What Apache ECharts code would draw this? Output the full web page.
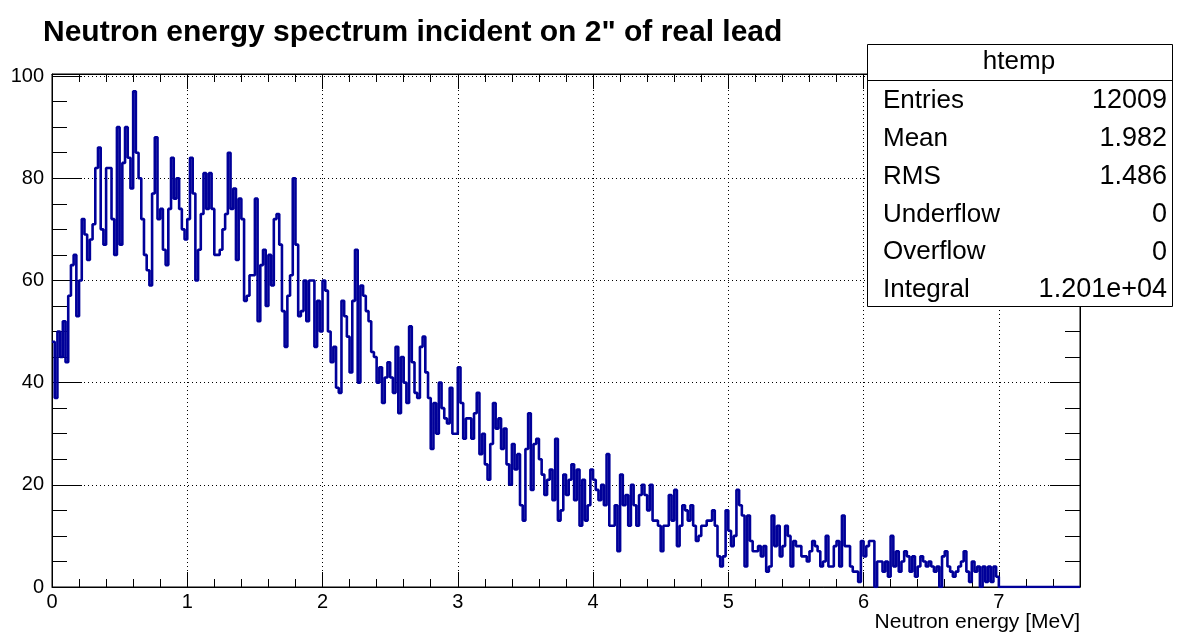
<!DOCTYPE html>
<html><head><meta charset="utf-8">
<script src="https://cdn.jsdelivr.net/npm/echarts@6/dist/echarts.min.js"></script>
<style>html,body{margin:0;padding:0;background:#fff}#c{width:1183px;height:635px}</style>
</head><body><div id="c"></div>
<script>
const TITLE = 'Neutron energy spectrum incident on 2" of real lead';
const X_NAME = 'Neutron energy [MeV]';
const BIN_WIDTH = 0.02;
const X_MIN = 0, X_MAX = 7.6;
const Y_MIN = 0, Y_MAX = 100.4;
const xTickValues = [0, 1, 2, 3, 4, 5, 6, 7];
const yTickValues = [0, 20, 40, 60, 80, 100];

// bin contents, 0.02 MeV bins
const counts0to1 = [48,37,50,45,52,44,57,63,65,53, 60,72,69,64,68,71,82,86,70,67, 82,82,72,65,90,67,83,90,84,78, 97,85,80,72,65,62,59,77,88,72, 74,66,63,74,84,76,80,74,70,68];
const counts1to2 = [72,84,77,60,66,73,81,74,81,74, 65,65,66,70,73,85,74,78,64,76, 72,56,57,61,61,76,52,63,66,55, 65,59,72,73,67,54,47,57,61,80, 67,53,54,60,52,60,60,47,56,50];
const counts2to3p16 = [60,58,50,44,47,39,38,56,53,49, 42,56,66,40,59,57,54,52,46,45, 40,43,36,41,44,41,38,47,34,45, 40,36,51,44,38,37,47,49,42,37, 27,36,30,40,35,33,32,39,30,30, 43,36,29,33,33,29,34,38];
const counts3p16to4p06 = [26,30,24,21,28,36,31,33,27,31, 24,20,28,23,26,16,13,27,34,19, 28,29,25,22,18,21,23,17,29,13, 15,22,18,21,24,17,23,12,21,13, 16,23,21,19,17];
const counts4p06to5p24 = [20,16,26,12,12,16,7,22,16,18, 12,20,16,12,18,20,18,15,20,13, 13,12,7,12,12,18,13,19,8,12, 16,15,13,16,12,9,10,12,12,13, 13,15,12,6,4,6,15,11,8,10, 19,16,14,4,14,9,7,7,8];
const counts5p24to6p28 = [6,8,3,4,14,8,12,6,8,12, 10,4,9,8,8,6,6,5,7,9, 8,7,4,5,10,4,4,8,9,4, 14,8,8,4,3,3,1,9,6,8, 9,9,0,5,5,3,5,2,10,4, 7,3];
const counts6p28to7 = [5,7,6,3,6,2,4,6,5,4, 5,4,3,4,0,6,7,4,3,2, 3,4,5,7,3,1,5,3,4,0, 4,1,4,1,4,2];
const counts7to7p6 = [0,0,0,0,0,0,0,0,0,0, 0,0,0,0,0,0,0,0,0,0, 0,0,0,0,0,0,0,0,0,0];

const statsTitle = 'htemp';
const statLabels = ['Entries', 'Mean', 'RMS', 'Underflow', 'Overflow', 'Integral'];
const statValues = ['12009', '1.982', '1.486', '0', '0', '1.201e+04'];

const counts = [].concat(counts0to1, counts1to2, counts2to3p16, counts3p16to4p06,
  counts4p06to5p24, counts5p24to6p28, counts6p28to7, counts7to7p6);
const histData = counts.map((c, i) => [+(i * BIN_WIDTH).toFixed(4), c]);
histData.push([X_MAX, counts[counts.length - 1]]);

const FONT = '"Liberation Sans", Arial, Helvetica, sans-serif';
const chart = echarts.init(document.getElementById('c'), null, {renderer: 'canvas'});

const near = (v, arr) => arr.some(t => Math.abs(t - v) < 1e-6);
const xAxisBase = {
  type: 'value', min: X_MIN, max: X_MAX, interval: 1,
  axisLine: {show: true, onZero: false, lineStyle: {color: '#000', width: 1}},
  axisTick: {show: true, inside: true, length: 15, lineStyle: {color: '#000'}},
  minorTick: {show: true, splitNumber: 5, length: 8, lineStyle: {color: '#000'}},
};
const yAxisBase = {
  type: 'value', min: Y_MIN, max: Y_MAX, interval: 20,
  axisLine: {show: true, onZero: false, lineStyle: {color: '#000', width: 1}},
  axisTick: {show: true, inside: true, length: 30, lineStyle: {color: '#000'}},
  minorTick: {show: true, splitNumber: 4, length: 15, lineStyle: {color: '#000'}},
};

const graphics = [];
graphics.push({
  type: 'text', x: 1080, y: 622, z: 10,
  style: {text: X_NAME, fill: '#000', font: '21px ' + FONT, textAlign: 'right', textVerticalAlign: 'middle', verticalAlign: 'middle'}
});
graphics.push({
  type: 'rect', z: 20, shape: {x: 867.5, y: 44.5, width: 305, height: 262},
  style: {fill: '#fff', stroke: '#000', lineWidth: 1}
});
graphics.push({
  type: 'line', z: 21, shape: {x1: 867.5, y1: 80.5, x2: 1172.5, y2: 80.5},
  style: {stroke: '#000', lineWidth: 1}
});
graphics.push({
  type: 'text', x: 1019, y: 62, z: 22,
  style: {text: statsTitle, fill: '#000', font: '26px ' + FONT, textAlign: 'center', textVerticalAlign: 'middle', verticalAlign: 'middle'}
});
statLabels.forEach((lab, i) => {
  const yy = 101 + i * 37.8;
  graphics.push({type: 'text', x: 883, y: yy, z: 22,
    style: {text: lab, fill: '#000', font: '26px ' + FONT, textAlign: 'left', textVerticalAlign: 'middle', verticalAlign: 'middle'}});
  graphics.push({type: 'text', x: 1167, y: yy, z: 22,
    style: {text: statValues[i], fill: '#000', font: '27px ' + FONT, textAlign: 'right', textVerticalAlign: 'middle', verticalAlign: 'middle'}});
});

chart.setOption({
  animation: false,
  backgroundColor: '#fff',
  title: {
    text: TITLE, left: 38, top: 13,
    textStyle: {fontFamily: FONT, fontSize: 30, fontWeight: 'bold', color: '#000'}
  },
  grid: {left: 52, right: 103, top: 74, bottom: 48, show: true, borderColor: '#000', borderWidth: 1, backgroundColor: '#fff'},
  xAxis: [
    Object.assign({}, xAxisBase, {
      position: 'bottom',
      axisLabel: {show: true, color: '#000', fontFamily: FONT, fontSize: 20, margin: 5,
        showMaxLabel: false,
        formatter: v => near(v, xTickValues) ? String(Math.round(v)) : ''},
      splitLine: {show: true, lineStyle: {color: '#000', width: 1, type: [1, 3]}}
    }),
    Object.assign({}, xAxisBase, {
      position: 'top', axisLabel: {show: false}, splitLine: {show: false}
    })
  ],
  yAxis: [
    Object.assign({}, yAxisBase, {
      position: 'left',
      axisLabel: {show: true, color: '#000', fontFamily: FONT, fontSize: 20, margin: 8,
        showMaxLabel: false,
        formatter: v => near(v, yTickValues) ? String(Math.round(v)) : ''},
      splitLine: {show: true, lineStyle: {color: '#000', width: 1, type: [1, 3]}}
    }),
    Object.assign({}, yAxisBase, {
      position: 'right', axisLabel: {show: false}, splitLine: {show: false}
    })
  ],
  series: [{
    type: 'line', step: 'end', data: histData, xAxisIndex: 0, yAxisIndex: 0,
    showSymbol: false, symbol: 'none', clip: true,
    lineStyle: {color: '#000099', width: 2.6},
    z: 5
  }],
  graphic: graphics
});
</script>
</body></html>
